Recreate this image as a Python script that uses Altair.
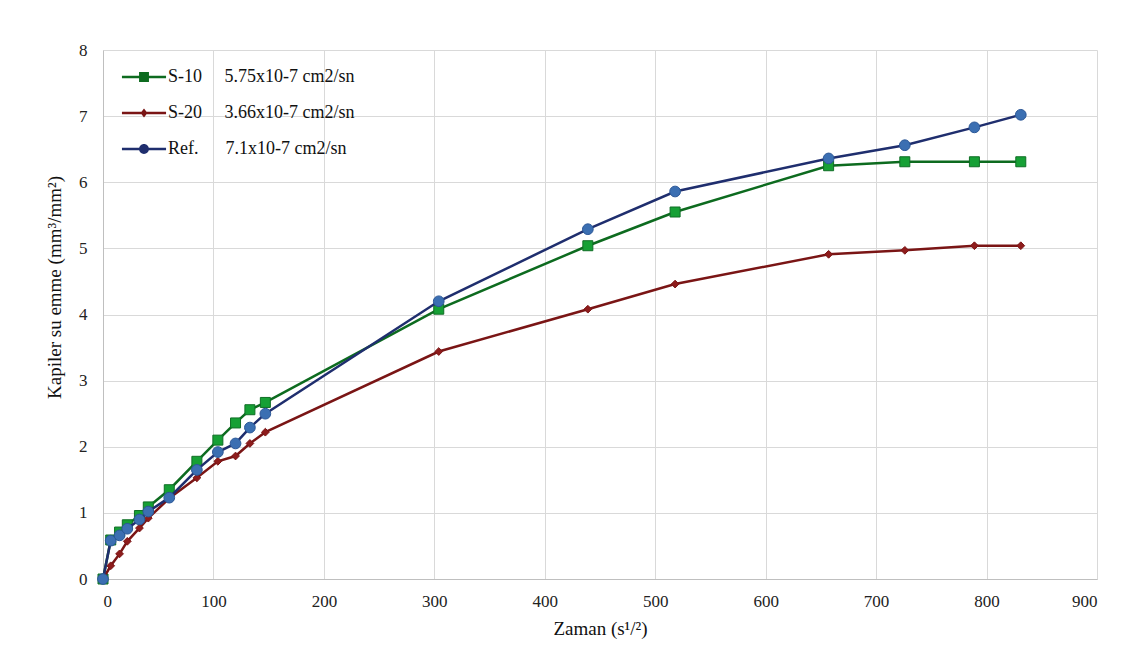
import altair as alt
import pandas as pd

# ---- data ----
series_names = ["S-10", "S-20", "Ref."]
legend_labels = [
    "S-10\u00a0\u00a0\u00a0\u00a0 5.75x10-7 cm2/sn",
    "S-20\u00a0\u00a0\u00a0\u00a0 3.66x10-7 cm2/sn",
    "Ref.\u00a0\u00a0\u00a0\u00a0\u00a0 7.1x10-7 cm2/sn",
]
x_vals = [0, 7, 15, 22, 33, 41, 60, 85, 104, 120, 133, 147, 304, 439, 518, 657, 726, 789, 831]
s10_vals = [0, 0.59, 0.71, 0.82, 0.96, 1.09, 1.35, 1.78, 2.10, 2.36, 2.56, 2.67, 4.08, 5.04, 5.55, 6.25, 6.31, 6.31, 6.31]
s20_vals = [0, 0.20, 0.38, 0.57, 0.77, 0.92, 1.22, 1.53, 1.78, 1.86, 2.05, 2.22, 3.44, 4.08, 4.46, 4.91, 4.97, 5.04, 5.04]
ref_vals = [0, 0.58, 0.66, 0.76, 0.90, 1.02, 1.23, 1.65, 1.92, 2.05, 2.29, 2.50, 4.20, 5.29, 5.86, 6.36, 6.56, 6.83, 7.02]
x_ticks = [0, 100, 200, 300, 400, 500, 600, 700, 800, 900]
y_ticks = [0, 1, 2, 3, 4, 5, 6, 7, 8]

line_colors = ["#0d6b1f", "#7a1515", "#1f2e6e"]
fill_colors = ["#16a035", "#8e1c1c", "#3b6fb2"]
stroke_colors = ["#0f6e25", "#7a1515", "#2b5797"]
marker_shapes = ["square", "diamond", "circle"]
marker_sizes = [100, 60, 115]

legend_paths = [
    "M-1.47,-0.08 H1.47 V0.08 H-1.47 Z M-0.33,-0.33 H0.33 V0.33 H-0.33 Z",
    "M-1.47,-0.08 H1.47 V0.08 H-1.47 Z M0,-0.3 L0.23,0 L0,0.3 L-0.23,0 Z",
    "M-1.47,-0.08 H1.47 V0.08 H-1.47 Z M-0.33,0 A0.33,0.33 0 1,1 0.33,0 A0.33,0.33 0 1,1 -0.33,0 Z",
]

rows = []
for name, label, vals in zip(series_names, legend_labels, [s10_vals, s20_vals, ref_vals]):
    for xv, yv in zip(x_vals, vals):
        rows.append({"series": name, "label": label, "x": xv, "y": yv})
df = pd.DataFrame(rows)

FONT = "'Liberation Serif', 'Times New Roman', 'DejaVu Serif', serif"

x_enc = alt.X("x:Q", scale=alt.Scale(domain=[0, 900], nice=False),
              axis=alt.Axis(values=x_ticks, title="Zaman (s¹/²)"))
y_enc = alt.Y("y:Q", scale=alt.Scale(domain=[0, 8], nice=False),
              axis=alt.Axis(values=y_ticks, title="Kapiler su emme (mm³/mm²)", titleY=237))

color_scale = alt.Scale(domain=series_names, range=line_colors)

layers = []
for i, name in enumerate(series_names):
    base = alt.Chart(df).transform_filter(alt.datum.series == name)
    line = base.mark_line(strokeWidth=2.5).encode(
        x=x_enc, y=y_enc,
        color=alt.Color("series:N", scale=color_scale, legend=None),
    )
    pts = base.mark_point(filled=True, opacity=1, strokeWidth=1,
                          shape=marker_shapes[i], size=marker_sizes[i],
                          fill=fill_colors[i], stroke=stroke_colors[i]).encode(
        x=x_enc, y=y_enc,
    )
    layers += [line, pts]

leg = dict(orient="none", legendX=26, legendY=12, title=None,
           symbolSize=900, symbolStrokeWidth=0,
           labelFont=FONT, labelFontSize=18, labelColor="#111111",
           labelOffset=9, rowPadding=12, padding=0, labelLimit=400)

legend_layer = alt.Chart(df).transform_filter("datum.x < 0").mark_point(
    filled=True, opacity=1).encode(
    x=x_enc, y=y_enc,
    color=alt.Color("label:N", scale=alt.Scale(domain=legend_labels, range=line_colors),
                    legend=alt.Legend(**leg)),
    shape=alt.Shape("label:N", scale=alt.Scale(domain=legend_labels, range=legend_paths),
                    legend=alt.Legend(**leg)),
)

chart = alt.layer(*layers, legend_layer).resolve_scale(
    color="independent", shape="independent"
).properties(
    width=994, height=529,
    autosize=alt.AutoSizeParams(type="none"),
    padding={"left": 95, "top": 42, "right": 20, "bottom": 84},
    background="white",
).configure_view(
    strokeWidth=0
).configure_axis(
    grid=True, gridColor="#d9d9d9", gridWidth=1,
    domainColor="#bfbfbf", domainWidth=1,
    ticks=False,
    labelFont=FONT, labelFontSize=17, labelColor="#222222",
    titleFont=FONT, titleFontSize=19, titleColor="#111111", titleFontWeight="normal",
).configure_axisX(
    labelPadding=14, titlePadding=10,
).configure_axisY(
    labelPadding=16, titlePadding=14,
)

chart.save("out.html", embed_options={"renderer": "svg", "actions": False})
